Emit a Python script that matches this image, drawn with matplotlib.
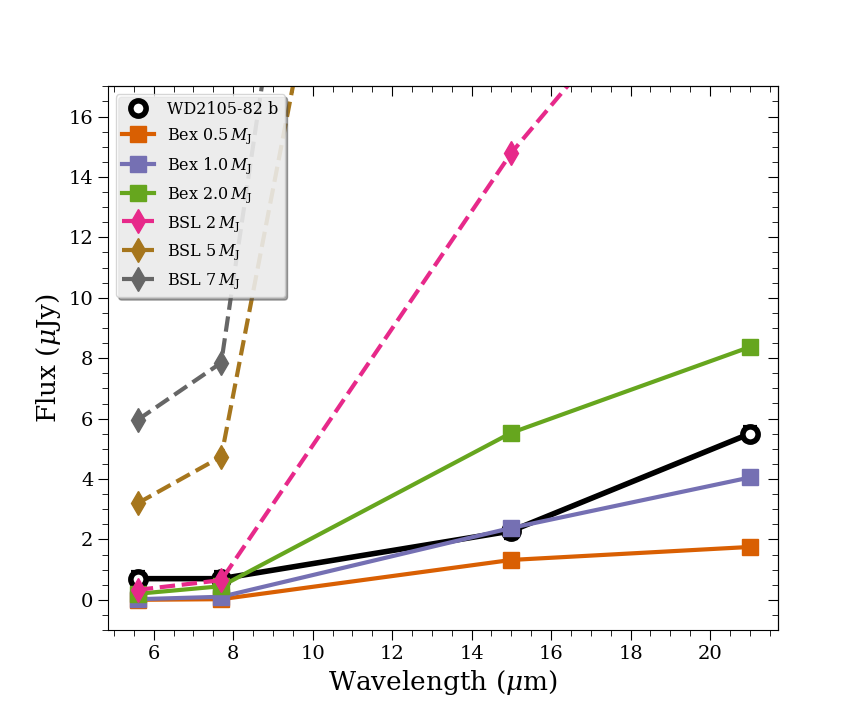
import numpy as np
import matplotlib as mpl
mpl.use('Agg')
import matplotlib.pyplot as plt
from matplotlib.ticker import MultipleLocator

mpl.rc('font', family='DejaVu Serif')
mpl.rcParams['mathtext.fontset'] = 'dejavuserif'

# MIRI filter wavelengths (micron)
wav = [5.6, 7.7, 15.0, 21.0]

# measured fluxes (uJy)
wd_flux = [0.70, 0.70, 2.28, 5.50]
wd_err = [0.22, 0.22, 0.22, 0.22]

# Bex models
bex05 = [0.0, 0.02, 1.32, 1.75]
bex10 = [0.02, 0.10, 2.38, 4.05]
bex20 = [0.20, 0.45, 5.53, 8.37]

# BSL models
bsl2 = [0.33, 0.65, 14.8, 24.2]
bsl5 = [3.20, 4.74, 54.4, 95.0]
bsl7 = [5.96, 7.85, 73.3, 130.0]

fig, ax = plt.subplots(figsize=(8.64, 7.2))
plt.subplots_adjust(left=0.125, right=0.9, bottom=0.125, top=0.88)

ax.errorbar(wav, wd_flux, yerr=wd_err, color='black', lw=4, fmt='-', capsize=5,
            capthick=3, elinewidth=3, zorder=1.5)
ax.plot(wav, wd_flux, ls='none', marker='o', ms=11, mfc='white', mec='black',
        mew=4, zorder=1.6, label='WD2105-82 b')
ax.plot(wav, bex05, color='#d95f02', lw=3, marker='s', ms=11, label=r'Bex 0.5$\,M_{\rm J}$')
ax.plot(wav, bex10, color='#7570b3', lw=3, marker='s', ms=11, label=r'Bex 1.0$\,M_{\rm J}$')
ax.plot(wav, bex20, color='#66a61e', lw=3, marker='s', ms=11, label=r'Bex 2.0$\,M_{\rm J}$')
ax.plot(wav, bsl2, color='#e7298a', lw=3, ls='--', marker='d', ms=12, label=r'BSL 2$\,M_{\rm J}$')
ax.plot(wav, bsl5, color='#a6761d', lw=3, ls='--', marker='d', ms=12, label=r'BSL 5$\,M_{\rm J}$')
ax.plot(wav, bsl7, color='#666666', lw=3, ls='--', marker='d', ms=12, label=r'BSL 7$\,M_{\rm J}$')

ax.set_xlim(4.85, 21.7)
ax.set_ylim(-1, 17)
ax.xaxis.set_major_locator(MultipleLocator(2))
ax.xaxis.set_minor_locator(MultipleLocator(0.5))
ax.yaxis.set_major_locator(MultipleLocator(2))
ax.yaxis.set_minor_locator(MultipleLocator(0.5))
ax.tick_params(which='both', labelsize=14, direction='out')
ax.tick_params(which='major', length=7)
ax.tick_params(which='minor', length=4)

# top and right ticks point inward
ax2 = ax.secondary_xaxis('top')
ax2.xaxis.set_major_locator(MultipleLocator(2))
ax2.xaxis.set_minor_locator(MultipleLocator(0.5))
ax2.tick_params(which='both', direction='in', labeltop=False)
ax2.tick_params(which='major', length=7)
ax2.tick_params(which='minor', length=4)
ax3 = ax.secondary_yaxis('right')
ax3.yaxis.set_major_locator(MultipleLocator(2))
ax3.yaxis.set_minor_locator(MultipleLocator(0.5))
ax3.tick_params(which='both', direction='in', labelright=False)
ax3.tick_params(which='major', length=7)
ax3.tick_params(which='minor', length=4)

ax.set_xlabel(r'Wavelength ($\mu$m)', fontsize=19)
ax.set_ylabel(r'Flux ($\mu$Jy)', fontsize=19)

leg = ax.legend(loc='upper left', fontsize=11.5, shadow=True, fancybox=True,
                framealpha=0.8, labelspacing=0.55)

plt.savefig('out.png', dpi=100)
